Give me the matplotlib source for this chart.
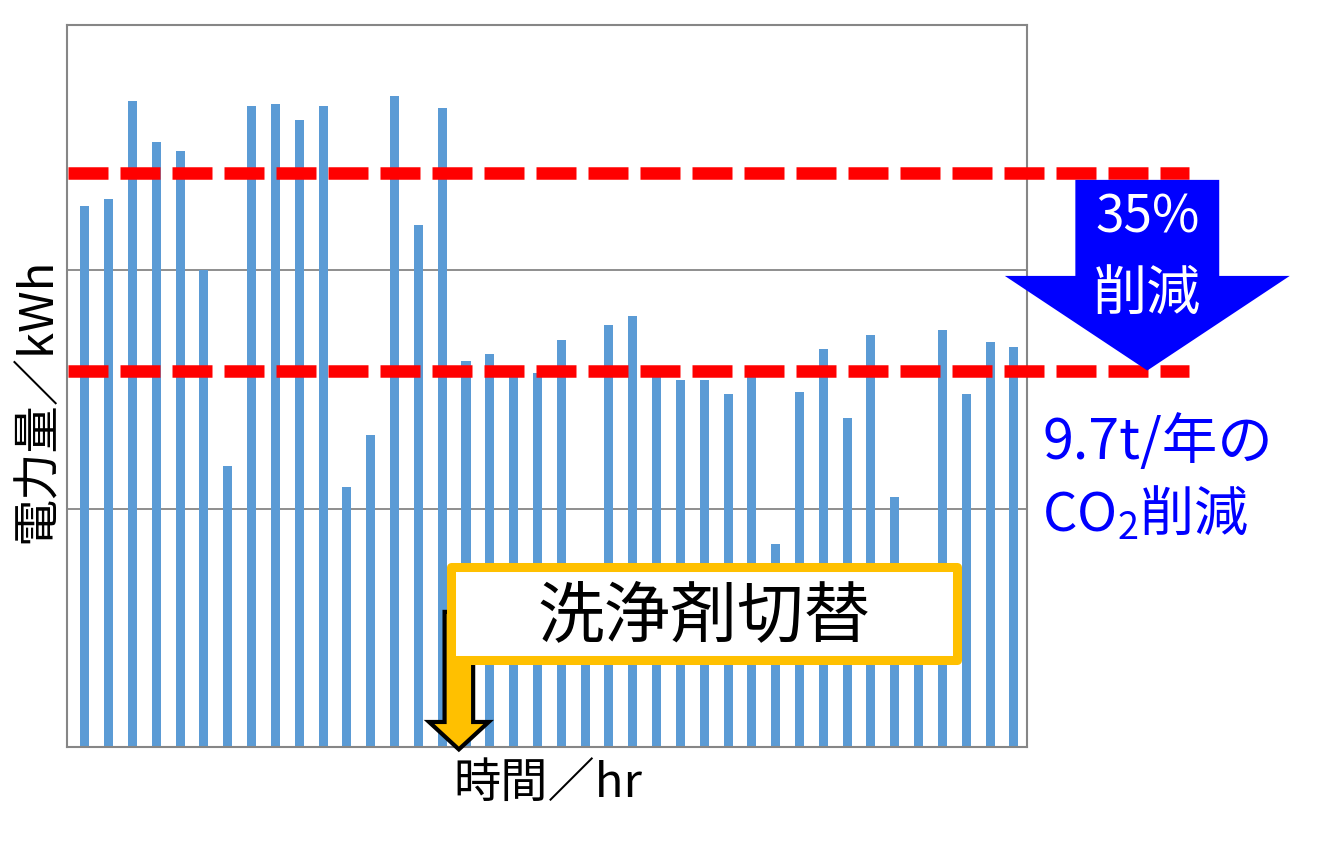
import numpy as np
import matplotlib
matplotlib.use('Agg')
import matplotlib.pyplot as plt
from matplotlib.patches import Polygon, Rectangle

plt.rcParams['font.family'] = ['Noto Sans CJK JP', 'DejaVu Sans']
plt.rcParams['mathtext.default'] = 'regular'

# hourly power use (grid units)
power = [2.27, 2.30, 2.71, 2.54, 2.50, 2.00, 1.18, 2.69, 2.70, 2.63,
         2.69, 1.09, 1.31, 2.73, 2.19, 2.68, 1.62, 1.65, 1.56, 1.57,
         1.71, 0.60, 1.77, 1.81, 1.56, 1.54, 1.54, 1.48, 1.56, 0.85,
         1.49, 1.67, 1.38, 1.73, 1.05, 0.65, 1.75, 1.48, 1.70, 1.68]
hours = np.arange(len(power))

level_before = 2.41
level_after = 1.58
switch_at = 15.7   # detergent switched here

ylabel = '電力量／kWh'
xlabel = '時間／hr'
switch_label = '洗浄剤切替'
co2_line1 = '9.7t/年の'
co2_line2 = 'CO$_2$削減'

fig = plt.figure(figsize=(13.25, 8.56), dpi=100)
ax = fig.add_axes([67/1325, 1-747/856, 960/1325, 722/856])

ax.bar(hours, power, width=0.38, color='#5B9BD5', zorder=2)
ax.set_xlim(-0.75, 39.55)
ax.set_ylim(0, 3.03)
ax.set_yticks([1, 2])
ax.set_xticks([])
ax.tick_params(left=False, labelleft=False)
ax.grid(axis='y', color='#868686', lw=1.3, zorder=1)
for s in ax.spines.values():
    s.set_color('#868686')
    s.set_linewidth(1.5)

# red dashed reference levels, running past the right edge
x_end = 46.35
for lv in [level_before, level_after]:
    ax.plot([-0.72, x_end], [lv, lv], color='#FF0000', lw=9,
            dashes=(3.2, 0.96), solid_capstyle='butt', dash_capstyle='butt',
            clip_on=False, zorder=4)

# blue "35% cut" arrow between the two levels
cx = 44.6
top = level_before - 0.03
head = 1.977
arrow = Polygon([[cx-3.02, top], [cx+3.02, top], [cx+3.02, head], [cx+5.98, head],
                 [cx, level_after], [cx-5.98, head], [cx-3.02, head]],
                closed=True, facecolor='#0000FF', edgecolor='none',
                clip_on=False, zorder=5)
ax.add_patch(arrow)
ax.text(cx, 2.22, '35%', color='white', fontsize=37, ha='center', va='center',
        clip_on=False, zorder=6)
ax.text(cx, 1.90, '削減', color='white', fontsize=39, ha='center', va='center',
        clip_on=False, zorder=6)

# CO2 note
ax.text(40.2, 1.276, co2_line1, color='#0000FF', fontsize=40, ha='left', va='center',
        clip_on=False)
ax.text(40.2, 0.98, co2_line2, color='#0000FF', fontsize=39, ha='left', va='center',
        clip_on=False)

# orange arrow marking the switch
sx = switch_at
orange = Polygon([[sx-0.6, 0.567], [sx+0.6, 0.567], [sx+0.6, 0.105], [sx+1.25, 0.105],
                  [sx, -0.01], [sx-1.25, 0.105], [sx-0.6, 0.105]],
                 closed=True, facecolor='#FFC000', edgecolor='black', lw=3,
                 joinstyle='miter', clip_on=False, zorder=6)
ax.add_patch(orange)

box = Rectangle((15.35, 0.367), 36.63-15.35, 0.757-0.367, facecolor='white',
                edgecolor='#FFC000', lw=6.5, joinstyle='round', zorder=7)
ax.add_patch(box)
ax.text(25.99, 0.545, switch_label, fontsize=48, ha='center', va='center', zorder=8)

fig.text(38/1325, 1-400/856, ylabel, rotation=90, fontsize=34, ha='center', va='center')
fig.text(548/1325, 1-785/856, xlabel, fontsize=34, ha='center', va='center')

fig.savefig('out.png', dpi=100)
